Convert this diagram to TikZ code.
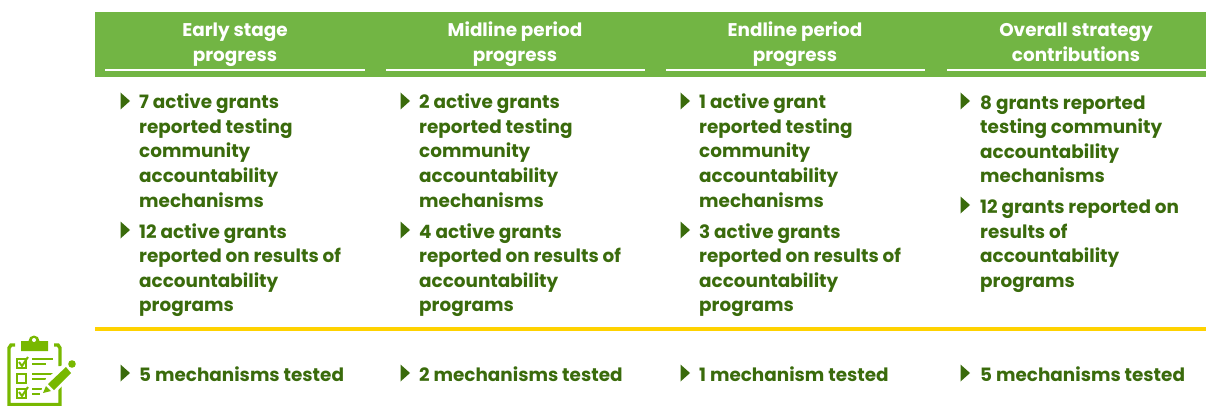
\documentclass[tikz,border=0pt]{standalone}
\usepackage{fontspec}
\setmainfont{Poppins}
\definecolor{hdr}{HTML}{72B544}
\definecolor{dk}{HTML}{3A6B0C}
\definecolor{gold}{HTML}{FFD200}
\definecolor{ico}{HTML}{78B800}
\newcommand{\bodyfont}{\fontsize{18.4}{24.5}\selectfont\bfseries}
\tikzset{
 x=1pt,y=-1pt,
 hd/.style={text=white,font=\fontsize{18.4}{24.5}\selectfont\bfseries,align=center,inner sep=0pt,anchor=base},
 bt/.style={text=dk,font=\bodyfont,align=left,inner sep=0pt,anchor=base west},
 tri/.style={fill=dk,draw=none},
 ic/.style={draw=ico,line width=3.4pt,fill=none},
}
\newcommand{\bul}[2]{\fill[tri] (#1-0.5,#2-8.5) -- (#1+9,#2) -- (#1-0.5,#2+8.5) -- cycle;}
\begin{document}
\begin{tikzpicture}
\useasboundingbox (0,0) rectangle (1206,406);
\fill[hdr] (95,12) rectangle (1206,77);
\foreach \a/\b in {105/365,386/645,666/925,947/1206}{\fill[white] (\a,69.5) rectangle (\b,71.5);}
\fill[gold] (95,327) rectangle (1206,331);
% headers
\node[hd] (h1a) at (235,37) {Early stage};
\node[hd] (h1b) at (235,62) {progress};
\node[hd] (h2a) at (515,37) {Midline period};
\node[hd] (h2b) at (515,62) {progress};
\node[hd] (h3a) at (795,37) {Endline period};
\node[hd] (h3b) at (795,62) {progress};
\node[hd] (h4a) at (1076,37) {Overall strategy};
\node[hd] (h4b) at (1076,62) {contributions};
% column 1
\bul{121}{101}
\node[bt] (c1a) at (139,207) {7 active grants\\reported testing\\community\\accountability\\mechanisms};
\bul{121}{230}
\node[bt] (c1b) at (139,311.5) {12 active grants\\reported on results of\\accountability\\programs};
\bul{121}{373}
\node[bt] (c1c) at (139,381) {5 mechanisms tested};
% column 2
\bul{401}{101}
\node[bt] (c2a) at (419,207) {2 active grants\\reported testing\\community\\accountability\\mechanisms};
\bul{401}{230}
\node[bt] (c2b) at (419,311.5) {4 active grants\\reported on results of\\accountability\\programs};
\bul{401}{373}
\node[bt] (c2c) at (419,381) {2 mechanisms tested};
% column 3
\bul{681}{101}
\node[bt] (c3a) at (699,207) {1 active grant\\reported testing\\community\\accountability\\mechanisms};
\bul{681}{230}
\node[bt] (c3b) at (699,311.5) {3 active grants\\reported on results of\\accountability\\programs};
\bul{681}{373}
\node[bt] (c3c) at (699,381) {1 mechanism tested};
% column 4
\bul{961}{101}
\node[bt] (c4a) at (980,182.5) {8 grants reported\\testing community\\accountability\\mechanisms};
\bul{961}{205}
\node[bt] (c4b) at (980,287) {12 grants reported on\\results of\\accountability\\programs};
\bul{961}{373}
\node[bt] (c4c) at (980,381) {5 mechanisms tested};
% clipboard icon
\draw[ic] (15,345) -- (11,345) -- (9,348) -- (9,404.5) -- (60,404.5) -- (60,384);
\draw[ic] (54,345) -- (58,345) -- (60,348) -- (60,366);
\fill[ico] (21,341) -- (28.5,341) arc (180:360:5.5) -- (48,341) -- (48,351) -- (21,351) -- cycle;
\fill[white] (34,340) circle (2);
\draw[ico,line width=2pt] (17,359) rectangle (26,368);
\draw[ico,line width=2pt] (17,374) rectangle (26,383);
\draw[ico,line width=2pt] (17,389) rectangle (26,398);
\draw[ico,line width=2pt] (19,362) -- (22,366) -- (28,357);
\draw[ico,line width=2pt] (19,392) -- (22,396) -- (28,387);
\draw[ico,line width=1.8pt] (32,359) -- (53,359) (32,364) -- (46,364);
\draw[ico,line width=1.8pt] (32,374) -- (53,374) (32,379) -- (46,379);
\draw[ico,line width=1.8pt] (32,389) -- (42,389) (32,394) -- (40,394);
\fill[white] (40,396) -- (44,381) -- (68,360) -- (78,370) -- (55,393) -- cycle;
\fill[ico] (48,384) -- (66,367) -- (71,373) -- (54,390) -- cycle;
\fill[ico] (43,393) -- (46,386) -- (51,391) -- cycle;
\fill[ico] (72,364) circle (3.8);
\end{tikzpicture}
\end{document}
